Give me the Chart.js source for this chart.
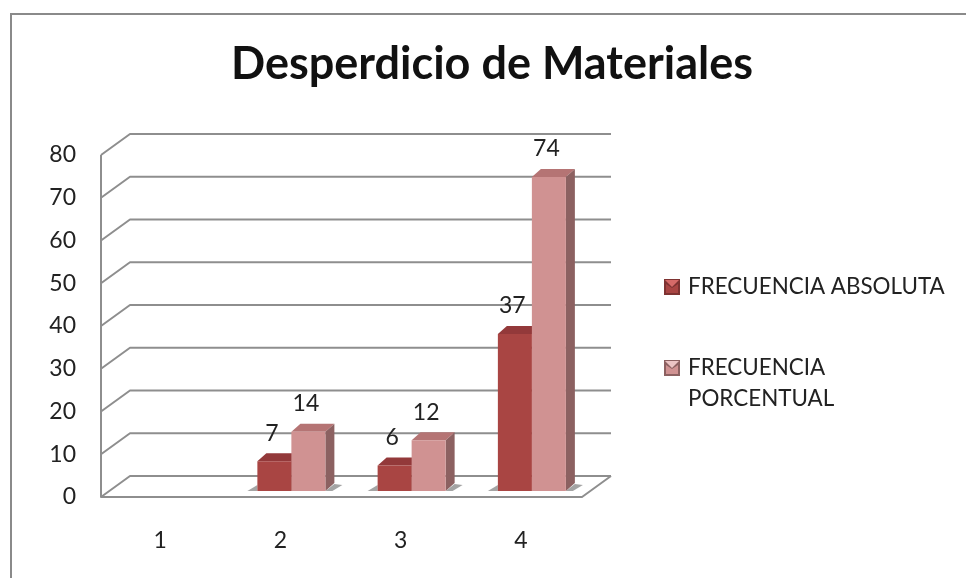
<!DOCTYPE html>
<html>
<head>
<meta charset="utf-8">
<title>Desperdicio de Materiales</title>
<script src="https://cdn.jsdelivr.net/npm/chart.js@4"></script>
<style>
  html, body { margin: 0; padding: 0; background: #fff; overflow: hidden; width: 966px; height: 578px; }
  /* canvas is wider than the window so the title centres where the original has it */
  #wrap { width: 984px; height: 578px; position: relative; }
</style>
</head>
<body>
<div id="wrap"><canvas id="chart"></canvas></div>
<script>
// ------- DATA -------
const titleText = "Desperdicio de Materiales";
const categories = ["1", "2", "3", "4"];
const absoluta = [null, 7, 6, 37];
const porcentual = [null, 14, 12, 74];
const seriesNames = ["FRECUENCIA ABSOLUTA", "FRECUENCIA PORCENTUAL"];
const legendLines = [["FRECUENCIA ABSOLUTA"], ["FRECUENCIA", "PORCENTUAL"]];

// ------- COLOURS -------
const fontName = "Lato, Carlito, sans-serif";
const textColor = "#222222";
const lineColor = "#8e8e8e";
const fronts = ["#A94543", "#D09292"];
const tops = ["#93393A", "#B57474"];
const sides = ["#7E3332", "#8C6161"];

// wall depth and bar depth of the fake 3D look
const wallDx = 29, wallDy = 21;
const barDx = 9, barDy = 8;

function poly(ctx, pts, fill) {
    ctx.beginPath();
    pts.forEach((p, i) => i ? ctx.lineTo(p[0], p[1]) : ctx.moveTo(p[0], p[1]));
    ctx.closePath();
    ctx.fillStyle = fill;
    ctx.fill();
}

// ------- WALLS, GRID AND BAR DEPTH (behind the real bars) -------
const depthPlugin = {
    id: "depth",
    beforeDraw(chart) {
        const ctx = chart.ctx;
        ctx.save();
        ctx.strokeStyle = "#8a8a8a";
        ctx.lineWidth = 2;
        ctx.beginPath();
        ctx.moveTo(11, 578);
        ctx.lineTo(11, 14);
        ctx.lineTo(984, 14);
        ctx.stroke();
        ctx.restore();
    },
    beforeDatasetsDraw(chart) {
        const ctx = chart.ctx;
        const y = chart.scales.y;
        const area = chart.chartArea;
        const left = area.left - 10, right = area.right - 10;

        ctx.save();
        ctx.strokeStyle = lineColor;
        ctx.lineWidth = 2;
        ctx.lineJoin = "round";

        y.ticks.forEach(t => {
            const py = y.getPixelForValue(t.value);
            ctx.beginPath();
            ctx.moveTo(left, py);
            ctx.lineTo(left + wallDx, py - wallDy);
            ctx.lineTo(right + wallDx, py - wallDy);
            ctx.stroke();
        });

        const y0 = y.getPixelForValue(0);
        const y80 = y.getPixelForValue(80);
        ctx.beginPath();
        ctx.moveTo(left, y80);
        ctx.lineTo(left, y0);
        ctx.lineTo(right, y0);
        ctx.lineTo(right + wallDx, y0 - wallDy);
        ctx.stroke();

        // floor shadows
        const bars0 = chart.getDatasetMeta(0).data;
        const bars1 = chart.getDatasetMeta(1).data;
        bars0.forEach((b, i) => {
            if (absoluta[i] === null) return;
            const l = b.x - b.width / 2;
            const r = bars1[i].x + bars1[i].width / 2;
            const base = b.base;
            poly(ctx, [[l - 10, base], [l, base - 6], [l, base]], "rgba(90,90,90,0.55)");
            poly(ctx, [[r, base], [r + 9, base - 7], [r + 17, base - 6], [r + 7, base]], "rgba(90,90,90,0.55)");
        });

        // top and side faces of each bar
        [0, 1].forEach(d => {
            chart.getDatasetMeta(d).data.forEach((b, i) => {
                if (chart.data.datasets[d].data[i] === null) return;
                const l = b.x - b.width / 2, r = b.x + b.width / 2;
                poly(ctx, [[l, b.y], [l + barDx, b.y - barDy], [r + barDx, b.y - barDy], [r, b.y]], tops[d]);
                poly(ctx, [[r, b.y], [r + barDx, b.y - barDy], [r + barDx, b.base - barDy], [r, b.base]], sides[d]);
            });
        });
        ctx.restore();
    },
    afterDraw(chart) {
        const ctx = chart.ctx;
        ctx.save();

        // value labels
        ctx.font = "23px " + fontName;
        ctx.fillStyle = textColor;
        ctx.textAlign = "center";
        ctx.textBaseline = "middle";
        [0, 1].forEach(d => {
            chart.getDatasetMeta(d).data.forEach((b, i) => {
                const v = chart.data.datasets[d].data[i];
                if (v === null) return;
                ctx.fillText(String(v), b.x - 2.5, b.y - 28);
            });
        });

        // legend
        const legendTop = [279, 360];
        ctx.font = "22.4px " + fontName;
        ctx.textAlign = "left";
        legendLines.forEach((lines, d) => {
            const x = 664, s = 16, t = legendTop[d];
            poly(ctx, [[x, t], [x + s, t], [x + s, t + s], [x, t + s]], sides[d]);
            poly(ctx, [[x + 2, t + 5], [x + s / 2, t + 9], [x + s - 2, t + 5], [x + s - 2, t + s - 2], [x + 2, t + s - 2]], fronts[d]);
            poly(ctx, [[x + 1, t + 1], [x + s - 1, t + 1], [x + s / 2, t + 8]], d ? "#EBC4C4" : "#D66A68");
            ctx.fillStyle = textColor;
            lines.forEach((line, n) => ctx.fillText(line, 688, t + 8 + n * 31));
        });
        ctx.restore();
    }
};

// ------- CHART -------
new Chart(document.getElementById("chart"), {
    type: "bar",
    data: {
        labels: categories,
        datasets: [
            { label: seriesNames[0], data: absoluta, backgroundColor: fronts[0], yAxisID: "yBars" },
            { label: seriesNames[1], data: porcentual, backgroundColor: fronts[1], yAxisID: "yBars" }
        ]
    },
    options: {
        responsive: true,
        maintainAspectRatio: false,
        animation: false,
        layout: { padding: 0 },
        datasets: { bar: { barPercentage: 1, categoryPercentage: 0.5655 } },
        plugins: {
            legend: { display: false },
            tooltip: { enabled: false },
            title: {
                display: true,
                text: titleText,
                color: "#111111",
                font: { family: fontName, size: 45, weight: "bold", lineHeight: 1.2 },
                padding: { top: 37, bottom: 64 }
            }
        },
        scales: {
            x: {
                grid: { display: false, drawTicks: false },
                border: { display: false },
                afterFit(scale) { scale.height = 81; },
                ticks: {
                    color: textColor,
                    font: { family: fontName, size: 23 },
                    padding: 30,
                    labelOffset: -11,
                    maxRotation: 0
                }
            },
            y: {
                min: 0,
                max: 80,
                grid: { display: false, drawTicks: false },
                border: { display: false },
                afterFit(scale) { scale.width = 111; },
                ticks: {
                    stepSize: 10,
                    color: textColor,
                    font: { family: fontName, size: 23 },
                    padding: 35
                }
            },
            // bars stand a little in front of the back wall, so they get their own hidden scale
            yBars: { display: false, min: -1.4, max: 79.2 },
            // empty axis on the right keeps the plot clear of the legend without narrowing the title
            yRoom: {
                position: "right",
                grid: { display: false, drawTicks: false },
                border: { display: false },
                ticks: { display: false },
                afterFit(scale) { scale.width = 392; }
            }
        }
    },
    plugins: [depthPlugin]
});
</script>
</body>
</html>
